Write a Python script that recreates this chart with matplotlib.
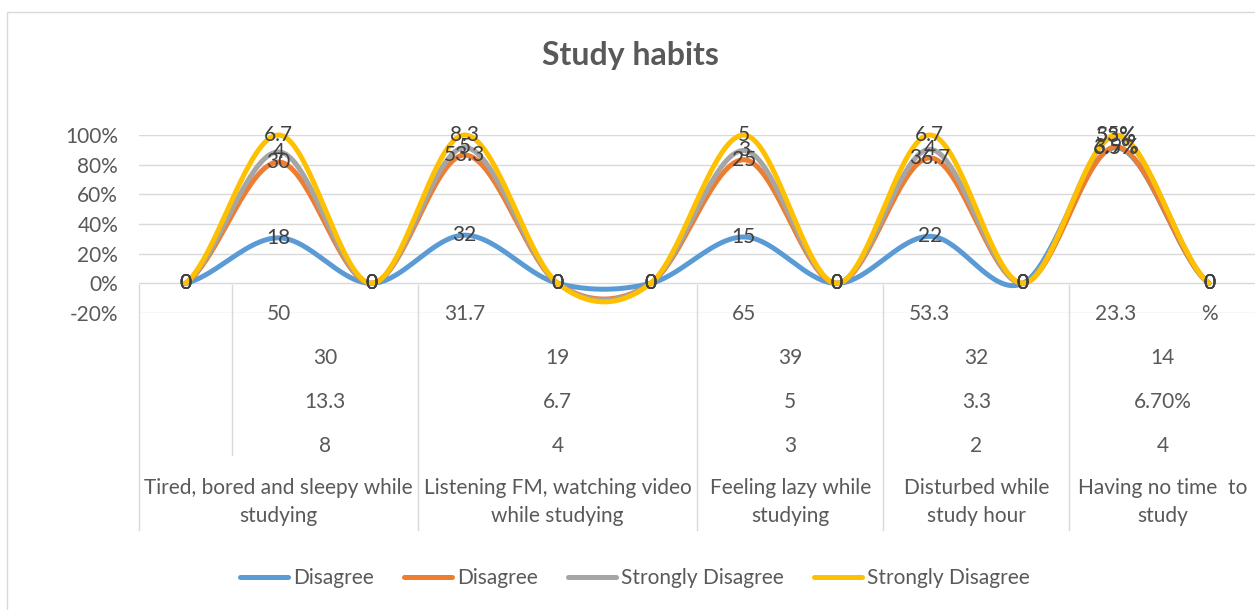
import numpy as np
import matplotlib
matplotlib.use("Agg")
import matplotlib.pyplot as plt
from matplotlib import transforms
from matplotlib.lines import Line2D
from matplotlib.patches import Rectangle

plt.rcParams['font.family'] = ['Lato', 'DejaVu Sans']

# innermost category level (one entry per point on the x axis)
level1 = ["", "50", "", "31.7", "", "", "65", "", "53.3", "", "23.3", "%"]
# outer levels: (first slot, last slot, text)
level2 = [(1, 2, "30"), (3, 5, "19"), (6, 7, "39"), (8, 9, "32"), (10, 11, "14")]
level3 = [(1, 2, "13.3"), (3, 5, "6.7"), (6, 7, "5"), (8, 9, "3.3"), (10, 11, "6.70%")]
level4 = [(1, 2, "8"), (3, 5, "4"), (6, 7, "3"), (8, 9, "2"), (10, 11, "4")]
habits = [(0, 2, "Tired, bored and sleepy while\nstudying"),
          (3, 5, "Listening FM, watching video\nwhile studying"),
          (6, 7, "Feeling lazy while\nstudying"),
          (8, 9, "Disturbed while\nstudy hour"),
          (10, 11, "Having no time  to\nstudy")]

series_names = ["Disagree", "Disagree", "Strongly Disagree", "Strongly Disagree"]
disagree_n = [0, 18, 0, 32, 0, 0, 15, 0, 22, 0, 6.5, 0]
disagree_pct = [0, 30, 0, 53.3, 0, 0, 25, 0, 36.7, 0, 0.039, 0]
strongly_n = [0, 4, 0, 5, 0, 0, 3, 0, 4, 0, 0.53, 0]
strongly_pct = [0, 6.7, 0, 8.3, 0, 0, 5, 0, 6.7, 0, 0.035, 0]
# the last peak shows percent-formatted labels
last_peak_labels = ["6.5%", "3.9%", "53%", "35%"]

colors = ["#5B9BD5", "#ED7D31", "#A5A5A5", "#FFC000"]
TXT = "#595959"
GRID = "#D9D9D9"
FS = 15


def smooth(y, n=40):
    # catmull-rom curve, like excel's smoothed line
    p = np.concatenate([[y[0]], y, [y[-1]]])
    t = np.linspace(0, 1, n)
    xs, ys = [], []
    for i in range(len(y) - 1):
        p0, p1, p2, p3 = p[i], p[i + 1], p[i + 2], p[i + 3]
        m1 = (p2 - p0) / 2
        m2 = (p3 - p1) / 2
        h00 = 2 * t**3 - 3 * t**2 + 1
        h10 = t**3 - 2 * t**2 + t
        h01 = -2 * t**3 + 3 * t**2
        h11 = t**3 - t**2
        ys.append(h00 * p1 + h10 * m1 + h01 * p2 + h11 * m2)
        xs.append(i + t)
    return np.concatenate(xs), np.concatenate(ys)


def fmt(v):
    return ("%g" % v)


W, H = 1255, 610
fig = plt.figure(figsize=(W / 100, H / 100), dpi=100)
ax = fig.add_axes([139 / W, 1 - 313 / H, 1116.5 / W, 178 / H])

vals = np.array([disagree_n, disagree_pct, strongly_n, strongly_pct], dtype=float)
stack = np.cumsum(vals, axis=0)
total = stack[-1]
share = np.where(total > 0, stack / np.where(total > 0, total, 1), 0)

x = np.arange(len(level1))
for k in range(4):
    sx, sy = smooth(share[k])
    ax.plot(sx, sy, color=colors[k], lw=3.6, solid_capstyle='round',
            clip_on=False, zorder=3 + k, label=series_names[k])

for k in range(4):
    for i in x:
        lab = fmt(vals[k, i])
        if i == 10:
            lab = last_peak_labels[k]
        ax.text(i, share[k, i], lab, ha='center', va='center', fontsize=FS,
                color="#404040", zorder=10, clip_on=False)

ax.set_xlim(-0.5, len(level1) - 0.5)
ax.set_ylim(-0.2, 1.0)
ax.set_yticks(np.arange(-0.2, 1.01, 0.2))
ax.set_yticklabels(["%d%%" % round(v * 100) for v in np.arange(-0.2, 1.01, 0.2)])
ax.tick_params(axis='y', length=0, pad=15, labelsize=FS, labelcolor=TXT)
ax.set_xticks([])
ax.grid(axis='y', color=GRID, lw=1)
ax.set_axisbelow(True)
for s in ax.spines.values():
    s.set_visible(False)

# multi-level category labels under the plot
tr = transforms.blended_transform_factory(ax.transData, fig.transFigure)


def fy(py):
    return 1 - py / H


for i, lab in enumerate(level1):
    ax.text(i, fy(314), lab, transform=tr, ha='center', va='center',
            fontsize=FS, color=TXT)
for row, py in [(level2, 358), (level3, 402), (level4, 446)]:
    for a, b, lab in row:
        ax.text((a + b) / 2, fy(py), lab, transform=tr, ha='center',
                va='center', fontsize=FS, color=TXT)
for a, b, lab in habits:
    ax.text((a + b) / 2, fy(502), lab, transform=tr, ha='center', va='center',
            fontsize=FS, color=TXT, linespacing=1.5)

starts = [a for a, b, lab in habits]
for a, b, lab in level2:
    bottom = 530 if a in starts else 455
    fig.add_artist(Line2D([a - 0.5, a - 0.5], [fy(285), fy(bottom)],
                          transform=tr, color=GRID, lw=1))
fig.add_artist(Line2D([-0.5, -0.5], [fy(285), fy(530)], transform=tr,
                      color=GRID, lw=1))

fig.text(0.502, fy(55), "Study habits", ha='center', va='center',
         fontsize=23, fontweight='bold', color=TXT)

fig.legend(loc='center', bbox_to_anchor=(0.506, fy(578)), ncol=4,
           frameon=False, fontsize=FS, labelcolor=TXT, handlelength=2.3,
           handletextpad=0.25, columnspacing=1.45)

fig.add_artist(Rectangle((7 / W, -0.1), 1.2, fy(12) + 0.1,
                         transform=fig.transFigure, fill=False,
                         ec=GRID, lw=1))

fig.savefig("out.png", dpi=100)
